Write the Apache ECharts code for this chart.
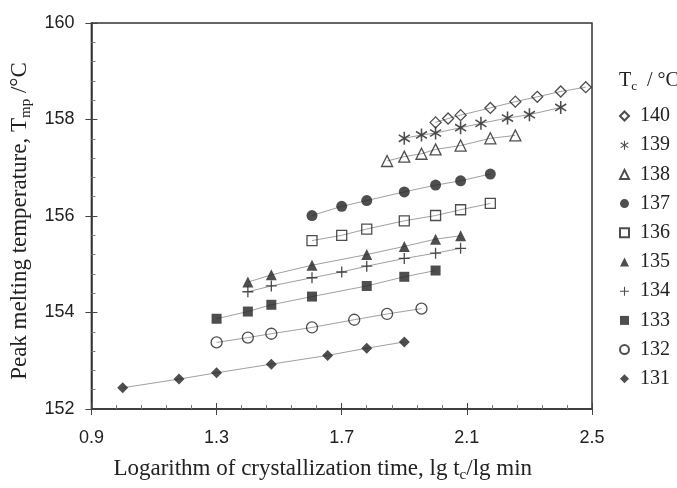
<!DOCTYPE html>
<html>
<head>
<meta charset="utf-8">
<script src="https://cdn.jsdelivr.net/npm/echarts@6/dist/echarts.min.js"></script>
<style>
html,body{margin:0;padding:0;background:#fff;}
#chart{width:677px;height:488px;}
</style>
</head>
<body>
<div id="chart"></div>
<script>
// ---- Data ----
const temps = ['140','139','138','137','136','135','134','133','132','131'];

const x140 = [2.00, 2.04, 2.08, 2.175, 2.255, 2.325, 2.40, 2.48];
const y140 = [157.94, 158.02, 158.09, 158.24, 158.37, 158.47, 158.58, 158.67];

const x139 = [1.90, 1.955, 2.00, 2.08, 2.145, 2.23, 2.30, 2.40];
const y139 = [157.61, 157.68, 157.72, 157.83, 157.92, 158.03, 158.10, 158.25];

const x138 = [1.845, 1.90, 1.955, 2.00, 2.08, 2.175, 2.255];
const y138 = [157.14, 157.23, 157.29, 157.38, 157.46, 157.61, 157.67];

const x137 = [1.605, 1.70, 1.78, 1.90, 2.00, 2.08, 2.175];
const y137 = [156.01, 156.20, 156.32, 156.50, 156.64, 156.73, 156.87];

const x136 = [1.605, 1.70, 1.78, 1.90, 2.00, 2.08, 2.175];
const y136 = [155.49, 155.60, 155.73, 155.90, 156.01, 156.13, 156.26];

const x135 = [1.40, 1.475, 1.605, 1.78, 1.90, 2.00, 2.08];
const y135 = [154.63, 154.78, 154.98, 155.20, 155.37, 155.52, 155.59];

const x134 = [1.40, 1.475, 1.605, 1.70, 1.78, 1.90, 2.00, 2.08];
const y134 = [154.43, 154.55, 154.72, 154.84, 154.96, 155.12, 155.23, 155.33];

const x133 = [1.30, 1.40, 1.475, 1.605, 1.78, 1.90, 2.00];
const y133 = [153.87, 154.02, 154.16, 154.33, 154.55, 154.74, 154.87];

const x132 = [1.30, 1.40, 1.475, 1.605, 1.74, 1.845, 1.955];
const y132 = [153.38, 153.48, 153.56, 153.69, 153.85, 153.97, 154.08];

const x131 = [1.00, 1.18, 1.30, 1.475, 1.655, 1.78, 1.90];
const y131 = [152.44, 152.62, 152.75, 152.93, 153.11, 153.26, 153.39];

const xTicks = [0.9, 1.3, 1.7, 2.1, 2.5];
const yTicks = [152, 154, 156, 158, 160];

// ---- Styling ----
const SERIF = 'Liberation Serif';
const SANS = 'Liberation Sans';
const INK = '#222';

function bar(deg) {
  const t = deg * Math.PI / 180, c = Math.cos(t), s = Math.sin(t), hw = 0.6, L = 5;
  const pts = [[-hw, -L], [hw, -L], [hw, L], [-hw, L]].map(function (p) {
    return [p[0] * c - p[1] * s + 6, p[0] * s + p[1] * c + 6];
  });
  return 'M' + pts.map(function (p) { return p[0].toFixed(3) + ',' + p[1].toFixed(3); }).join('L') + 'Z';
}
const ASTER = 'path://' + bar(0) + bar(58) + bar(-58);
const PLUS = 'path://M4.4,0H5.6V4.4H10V5.6H5.6V10H4.4V5.6H0V4.4H4.4Z';

const openStyle = { color: 'rgba(255,255,255,0)', borderColor: INK, borderWidth: 1.3 };
const fillStyle = { color: INK, borderWidth: 0 };

const spec = {
  '140': { x: x140, y: y140, symbol: 'diamond', size: 11, style: openStyle },
  '139': { x: x139, y: y139, symbol: ASTER, size: 13, style: fillStyle },
  '138': { x: x138, y: y138, symbol: 'triangle', size: 11, style: openStyle },
  '137': { x: x137, y: y137, symbol: 'circle', size: 11, style: fillStyle },
  '136': { x: x136, y: y136, symbol: 'rect', size: 10, style: openStyle },
  '135': { x: x135, y: y135, symbol: 'triangle', size: 11, style: fillStyle },
  '134': { x: x134, y: y134, symbol: PLUS, size: 11, style: fillStyle },
  '133': { x: x133, y: y133, symbol: 'rect', size: 10, style: fillStyle },
  '132': { x: x132, y: y132, symbol: 'circle', size: 11, style: openStyle },
  '131': { x: x131, y: y131, symbol: 'diamond', size: 11, style: fillStyle }
};

function pairs(xs, ys) { return xs.map(function (v, i) { return [v, ys[i]]; }); }

const series = [];
temps.forEach(function (t) {
  const s = spec[t];
  series.push({
    type: 'line', name: 'fit' + t, data: pairs(s.x, s.y), symbol: 'none',
    lineStyle: { color: '#a0a0a0', width: 1 }, silent: true, z: 1, animation: false
  });
});
temps.forEach(function (t) {
  const s = spec[t];
  series.push({
    type: 'scatter', name: t, data: pairs(s.x, s.y), symbol: s.symbol, symbolSize: s.size,
    symbolKeepAspect: true, itemStyle: s.style, z: 3, animation: false
  });
});

const subRich = function (size, mainLH) {
  return {
    a: { fontFamily: SERIF, fontSize: size, fontWeight: 'normal', color: INK, lineHeight: mainLH },
    s: { fontFamily: SERIF, fontSize: Math.round(size * 0.65), fontWeight: 'normal', color: INK, lineHeight: Math.round(size * 0.65), verticalAlign: 'bottom' }
  };
};

const axisBase = {
  type: 'value',
  splitLine: { show: false }
};

const option = {
  backgroundColor: '#fff',
  animation: false,
  grid: { left: 88, right: 85, top: 23, bottom: 70, show: true, borderColor: '#333', borderWidth: 1.5, backgroundColor: 'transparent' },
  title: {
    text: '{a|T}{s|c}{a|  / °C}', left: 619, top: 69, padding: 0,
    textStyle: { fontWeight: 'normal', rich: subRich(20, 24) }
  },
  legend: {
    orient: 'vertical', left: 619, top: 106, padding: 0,
    itemWidth: 9, itemHeight: 9, itemGap: 9.2, selectedMode: false,
    data: temps,
    textStyle: { fontFamily: SERIF, fontSize: 20, color: INK, lineHeight: 20, padding: [0, 0, 0, 6] }
  },
  xAxis: [
    Object.assign({}, axisBase, {
      min: xTicks[0], max: xTicks[xTicks.length - 1], interval: 0.4, position: 'bottom',
      axisLine: { show: true, onZero: false, lineStyle: { color: '#333', width: 1.5 } },
      axisTick: { show: true, length: 6, lineStyle: { color: '#444', width: 1 } },
      minorTick: { show: false },
      axisLabel: { margin: 20, fontFamily: SANS, fontSize: 18, color: INK, formatter: function (v) { return v.toFixed(1); } },
      name: '{a|Logarithm of crystallization time, lg t}{s|c}{a|/lg min}',
      nameLocation: 'middle', nameGap: 46,
      nameTextStyle: { padding: [0, 38, 0, 0], rich: subRich(23, 28) }
    }),
    Object.assign({}, axisBase, {
      min: xTicks[0], max: xTicks[xTicks.length - 1], interval: 0.4, position: 'bottom',
      axisLine: { show: false, onZero: false },
      axisTick: { show: true, inside: true, length: 6, lineStyle: { color: '#444', width: 1 } },
      minorTick: { show: true, splitNumber: 5, length: 4, lineStyle: { color: '#777', width: 1 } },
      axisLabel: { show: false }
    })
  ],
  yAxis: [
    Object.assign({}, axisBase, {
      min: yTicks[0], max: yTicks[yTicks.length - 1], interval: 2, position: 'left',
      axisLine: { show: true, onZero: false, lineStyle: { color: '#333', width: 1.5 } },
      axisTick: { show: true, length: 6, lineStyle: { color: '#444', width: 1 } },
      minorTick: { show: false },
      axisLabel: { margin: 17, fontFamily: SANS, fontSize: 18, color: INK },
      name: '{a|Peak melting temperature, T}{s|mp}{a| /°C}',
      nameLocation: 'middle', nameGap: 54, nameRotate: 90,
      nameTextStyle: { padding: [0, 10, 0, 0], rich: subRich(23, 28) }
    }),
    Object.assign({}, axisBase, {
      min: yTicks[0], max: yTicks[yTicks.length - 1], interval: 2, position: 'left',
      axisLine: { show: false, onZero: false },
      axisTick: { show: true, inside: true, length: 6, lineStyle: { color: '#444', width: 1 } },
      minorTick: { show: true, splitNumber: 5, length: 4, lineStyle: { color: '#777', width: 1 } },
      axisLabel: { show: false }
    })
  ],
  series: series
};

const chart = echarts.init(document.getElementById('chart'), null, { renderer: 'canvas' });
chart.setOption(option);
</script>
</body>
</html>
